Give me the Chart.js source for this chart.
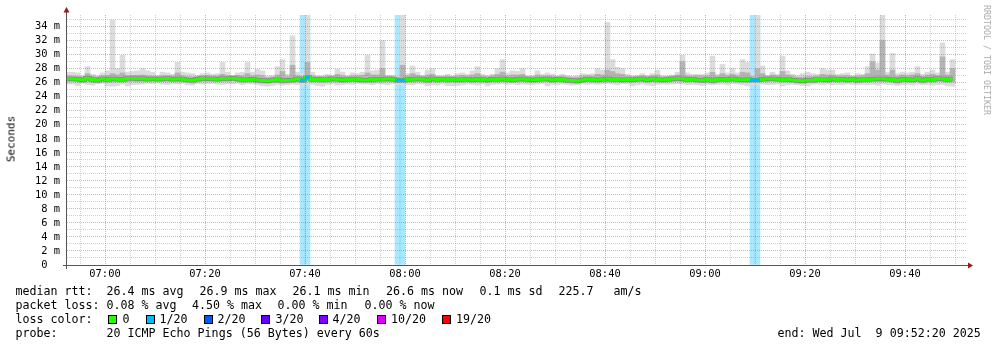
<!DOCTYPE html>
<html><head><meta charset="utf-8">
<script src="https://cdn.jsdelivr.net/npm/chart.js@4.4.1/dist/chart.umd.min.js"></script>
<style>
html,body{margin:0;padding:0;background:#fff;}
#wrap{position:relative;width:997px;height:347px;overflow:hidden;background:#fff;}
canvas{position:absolute;left:0;top:0;}
.t{position:absolute;font-family:"DejaVu Sans Mono",monospace;font-size:11.65px;line-height:14px;color:#000;white-space:pre;}
.sw{position:absolute;width:7px;height:7px;border:1px solid #000;}
.rot{position:absolute;font-family:"DejaVu Sans Mono",monospace;white-space:pre;}
</style></head><body>
<div id="wrap">
<canvas id="c" width="997" height="347"></canvas>
<div class="rot" style="left:11px;top:139px;font-size:11px;color:#000;transform:translate(-50%,-50%) rotate(-90deg);">Seconds</div>
<div class="rot" style="left:987px;top:60px;font-size:8.3px;color:#aaaaaa;transform:translate(-50%,-50%) rotate(90deg);">RRDTOOL / TOBI OETIKER</div>

<div class="t" style="left:15.5px;top:284px;">median rtt:</div>
<div class="t" style="left:106.5px;top:284px;">26.4 ms avg</div>
<div class="t" style="left:199.5px;top:284px;">26.9 ms max</div>
<div class="t" style="left:292.5px;top:284px;">26.1 ms min</div>
<div class="t" style="left:386px;top:284px;">26.6 ms now</div>
<div class="t" style="left:479.5px;top:284px;">0.1 ms sd</div>
<div class="t" style="left:558.5px;top:284px;">225.7</div>
<div class="t" style="left:613.5px;top:284px;">am/s</div>

<div class="t" style="left:15.5px;top:298px;">packet loss:</div>
<div class="t" style="left:106.5px;top:298px;">0.08 % avg</div>
<div class="t" style="left:192px;top:298px;">4.50 % max</div>
<div class="t" style="left:277.5px;top:298px;">0.00 % min</div>
<div class="t" style="left:364.5px;top:298px;">0.00 % now</div>

<div class="t" style="left:15.5px;top:312px;">loss color:</div>
<div class="sw" style="left:108px;top:315px;background:#26ff00;"></div><div class="t" style="left:122.5px;top:312px;">0</div>
<div class="sw" style="left:146px;top:315px;background:#00b8ff;"></div><div class="t" style="left:159.5px;top:312px;">1/20</div>
<div class="sw" style="left:203.5px;top:315px;background:#0059ff;"></div><div class="t" style="left:217.5px;top:312px;">2/20</div>
<div class="sw" style="left:261px;top:315px;background:#5e00ff;"></div><div class="t" style="left:275.5px;top:312px;">3/20</div>
<div class="sw" style="left:318.5px;top:315px;background:#7e00ff;"></div><div class="t" style="left:332.5px;top:312px;">4/20</div>
<div class="sw" style="left:377px;top:315px;background:#dd00ff;"></div><div class="t" style="left:391px;top:312px;">10/20</div>
<div class="sw" style="left:442px;top:315px;background:#ff0000;"></div><div class="t" style="left:456px;top:312px;">19/20</div>

<div class="t" style="left:15.5px;top:326px;">probe:</div>
<div class="t" style="left:106.5px;top:326px;">20 ICMP Echo Pings (56 Bytes) every 60s</div>
<div class="t" style="left:777.5px;top:326px;">end: Wed Jul  9 09:52:20 2025</div>
</div>
<script>
// ---- data (ms), one sample per minute starting 06:52 ----
const startMinute = 412; // 06:52
const rttMedian = [
 26.55,26.55,26.50,26.40,26.65,26.45,26.35,26.55,26.45,26.55,
 26.50,26.45,26.60,26.60,26.55,26.60,26.50,26.55,26.50,26.55,
 26.60,26.50,26.55,26.50,26.40,26.35,26.50,26.60,26.55,26.55,
 26.50,26.60,26.55,26.65,26.55,26.45,26.45,26.50,26.40,26.30,
 26.25,26.35,26.45,26.30,26.35,26.40,26.55,26.35,26.75,26.45,
 26.50,26.45,26.45,26.55,26.50,26.40,26.45,26.50,26.45,26.40,
 26.40,26.45,26.50,26.50,26.55,26.50,26.35,26.35,26.45,26.50,
 26.55,26.50,26.35,26.55,26.45,26.50,26.45,26.50,26.40,26.45,
 26.50,26.40,26.50,26.45,26.40,26.50,26.45,26.55,26.45,26.40,
 26.50,26.55,26.45,26.40,26.45,26.50,26.55,26.40,26.50,26.45,
 26.35,26.30,26.25,26.40,26.50,26.45,26.40,26.45,26.55,26.45,
 26.45,26.40,26.45,26.40,26.50,26.55,26.40,26.55,26.45,26.40,
 26.45,26.55,26.60,26.55,26.45,26.50,26.40,26.35,26.45,26.30,
 26.45,26.50,26.45,26.55,26.45,26.40,26.45,26.40,26.40,26.50,
 26.55,26.55,26.50,26.45,26.45,26.40,26.30,26.25,26.35,26.35,
 26.45,26.45,26.40,26.55,26.45,26.50,26.40,26.50,26.35,26.45,
 26.45,26.50,26.55,26.55,26.50,26.45,26.30,26.50,26.45,26.40,
 26.60,26.35,26.50,26.45,26.60,26.55,26.45,26.55
];
const rttMin = [
 25.80,25.80,25.60,25.90,25.75,25.65,25.85,25.90,25.55,25.50,
 25.60,25.80,25.55,25.70,25.75,25.80,25.90,25.85,25.95,25.80,
 25.75,25.85,25.80,25.90,25.70,25.65,25.85,25.80,25.85,25.90,
 25.80,25.75,25.85,25.80,25.90,25.70,25.85,25.80,25.70,25.55,
 25.50,25.60,25.75,25.65,25.70,25.80,25.75,25.70,25.80,25.75,
 25.60,25.50,25.75,25.80,25.65,25.70,25.80,25.75,25.85,25.80,
 25.80,25.70,25.85,25.80,25.70,25.85,25.75,25.80,25.75,25.70,
 25.85,25.80,25.55,25.70,25.65,25.80,25.60,25.55,25.60,25.70,
 25.80,25.75,25.65,25.80,25.55,25.75,25.80,25.85,25.75,25.80,
 25.70,25.80,25.75,25.70,25.80,25.85,25.55,25.75,25.70,25.80,
 25.75,25.65,25.70,25.80,25.75,25.80,25.75,25.80,25.85,25.80,
 25.70,25.85,25.80,25.55,25.70,25.80,25.65,25.60,25.75,25.80,
 25.75,25.80,25.85,25.80,25.70,25.75,25.70,25.60,25.75,25.70,
 25.75,25.80,25.70,25.85,25.80,25.70,25.60,25.75,25.75,25.80,
 25.70,25.75,25.80,25.55,25.70,25.75,25.70,25.60,25.55,25.75,
 25.80,25.70,25.80,25.70,25.75,25.70,25.80,25.75,25.70,25.75,
 25.70,25.75,25.65,25.80,25.75,25.70,25.60,25.70,25.75,25.65,
 25.80,25.70,25.75,25.65,25.70,25.75,25.55,25.50
];
const rttLow = [
 26.15,26.20,26.10,26.05,26.25,26.05,26.00,26.15,26.05,26.10,
 26.10,26.10,26.20,26.20,26.15,26.20,26.15,26.20,26.15,26.15,
 26.20,26.15,26.15,26.15,26.05,25.95,26.15,26.20,26.20,26.20,
 26.15,26.20,26.20,26.25,26.15,26.05,26.10,26.10,26.00,25.95,
 25.90,26.00,26.05,25.95,26.00,26.05,26.15,26.00,26.30,26.10,
 26.10,26.05,26.10,26.15,26.10,26.05,26.10,26.15,26.10,26.05,
 26.05,26.05,26.10,26.10,26.15,26.15,26.00,26.00,26.10,26.10,
 26.15,26.15,26.00,26.15,26.05,26.15,26.05,26.10,26.05,26.10,
 26.15,26.05,26.10,26.10,26.00,26.15,26.10,26.15,26.10,26.05,
 26.10,26.15,26.10,26.05,26.10,26.15,26.15,26.05,26.15,26.10,
 26.00,25.95,25.90,26.05,26.15,26.10,26.05,26.10,26.15,26.10,
 26.10,26.05,26.10,26.05,26.15,26.15,26.05,26.15,26.10,26.05,
 26.10,26.15,26.20,26.15,26.10,26.15,26.05,26.00,26.10,25.95,
 26.10,26.15,26.10,26.20,26.10,26.05,26.05,26.05,26.05,26.15,
 26.15,26.20,26.15,26.10,26.10,26.05,25.95,25.90,26.00,26.00,
 26.10,26.10,26.05,26.15,26.10,26.15,26.05,26.15,26.00,26.10,
 26.10,26.15,26.15,26.15,26.15,26.10,25.95,26.15,26.10,26.05,
 26.20,26.00,26.15,26.10,26.20,26.15,26.05,26.10
];
const rttHigh = [
 27.00,26.95,26.90,26.85,27.30,26.95,26.85,27.00,27.05,27.30,
 27.10,27.40,27.00,27.05,27.05,27.10,27.00,26.95,26.90,27.00,
 27.00,26.95,27.40,27.00,26.90,26.85,26.95,27.00,27.05,26.95,
 26.95,27.20,27.00,27.00,27.05,27.00,27.30,27.00,27.10,27.00,
 26.75,26.85,27.10,27.60,26.90,28.50,27.00,26.90,28.90,27.00,
 26.90,26.90,26.95,26.95,27.20,27.00,26.90,27.00,27.00,27.05,
 27.40,27.10,27.10,28.00,26.95,26.95,26.80,28.50,27.00,27.30,
 27.05,26.95,27.10,27.20,26.90,26.90,26.95,26.90,27.00,27.05,
 26.95,27.10,27.30,26.95,26.90,27.00,27.20,27.50,27.00,27.10,
 27.10,27.20,26.90,26.90,27.10,26.95,27.00,26.95,26.90,26.95,
 26.85,26.80,26.80,26.95,27.00,26.95,27.20,27.10,27.80,27.60,
 27.30,27.20,26.95,26.90,26.95,27.00,26.90,27.00,27.10,26.85,
 26.90,26.95,27.10,29.00,27.00,26.95,27.00,26.95,27.00,27.50,
 26.95,27.30,27.00,27.20,27.00,27.50,27.40,26.90,28.00,27.30,
 26.95,27.10,27.00,27.60,27.10,26.95,26.80,26.80,26.90,26.90,
 26.95,27.20,27.10,27.10,26.95,27.00,27.00,26.90,26.95,27.00,
 27.30,29.00,27.80,32.00,27.10,27.80,26.95,27.10,27.00,27.10,
 27.30,26.90,27.10,27.20,27.00,29.70,27.10,28.00
];
const rttMax = [
 27.5,27.5,27.4,27.0,28.3,27.2,27.0,27.4,27.7,34.95,
 28.0,29.9,27.5,27.6,27.7,28.0,27.7,27.5,27.1,27.5,
 27.4,27.2,28.9,27.5,27.4,27.3,27.0,27.3,27.4,27.2,
 27.3,28.9,27.5,27.0,27.4,27.5,28.9,27.5,27.9,27.7,
 27.0,27.0,28.3,29.3,27.2,32.7,27.5,27.2,36.0,27.5,
 27.0,27.0,27.2,27.0,27.9,27.5,27.0,27.4,27.3,27.5,
 29.9,27.7,27.8,32.0,27.0,27.0,27.0,36.0,27.3,28.4,
 27.5,27.0,27.8,28.0,27.0,27.0,27.2,27.0,27.3,27.4,
 27.2,27.7,28.3,27.2,27.0,27.2,28.0,29.3,27.4,27.7,
 27.6,28.0,27.0,27.0,27.7,27.2,27.4,27.2,27.0,27.2,
 27.0,26.9,27.0,27.3,27.2,27.3,28.0,27.8,34.6,29.3,
 28.2,28.0,27.2,27.0,27.0,27.3,27.0,27.3,27.8,27.0,
 27.0,27.1,27.5,29.9,27.4,27.2,27.2,27.2,27.4,29.8,
 27.2,28.6,27.4,28.0,27.4,29.3,28.9,27.3,36.0,28.4,
 27.0,27.5,27.2,29.8,27.7,27.2,27.0,27.3,27.5,27.3,
 27.2,28.0,27.8,27.8,27.2,27.3,27.4,27.0,27.3,27.2,
 28.3,30.1,28.8,36.0,27.5,30.2,27.3,27.5,27.4,27.5,
 28.3,27.2,27.5,27.8,27.4,31.7,27.5,29.3
];
// samples with packet loss (index into the arrays) and lost pings out of 20
const lossIndex = [47, 48, 66, 67, 137, 138];
const lossCount = [1, 1, 1, 1, 1, 1];

// axes
const xMinMinute = 412.4, xMaxMinute = 592.4;      // 06:52:24 .. 09:52:24
const xGridMinutes = [415,420,425,430,435,440,445,450,455,460,465,470,475,480,485,490,495,500,505,510,515,520,525,530,535,540,545,550,555,560,565,570,575,580,585,590];
const xLabelMinutes = [420,440,460,480,500,520,540,560,580];
const xLabels = ['07:00','07:20','07:40','08:00','08:20','08:40','09:00','09:20','09:40'];
const yGridValues = [0,1,2,3,4,5,6,7,8,9,10,11,12,13,14,15,16,17,18,19,20,21,22,23,24,25,26,27,28,29,30,31,32,33,34,35];
const yLabelValues = [0,2,4,6,8,10,12,14,16,18,20,22,24,26,28,30,32,34];
const yLabels = ['0  ','2 m','4 m','6 m','8 m','10 m','12 m','14 m','16 m','18 m','20 m','22 m','24 m','26 m','28 m','30 m','32 m','34 m'];
const yMax = 35.66;

const lossColors = {1:'#00b8ff',2:'#0059ff',3:'#5e00ff',4:'#7e00ff',10:'#dd00ff',19:'#ff0000'};
const lossBgColors = {1:'rgba(0,184,255,0.33)'};

const tOf = k => startMinute + k + 0.5;
const outer = rttMin.map((v,k)=>({x:tOf(k), y:[v, rttMax[k]]}));
const mid = rttLow.map((v,k)=>({x:tOf(k), y:[v, rttHigh[k]]}));
const med = rttMedian.map((v,k)=>({x:tOf(k), y:v}));
const lossBg = lossIndex.map((k)=>({x:tOf(k), y:[0, yMax]}));
const lossMed = lossIndex.map((k)=>({x:tOf(k), y:rttMedian[k]}));

const axisPlugin = {
  id:'rrdaxes',
  afterDraw(chart){
    const {ctx, chartArea:a} = chart;
    ctx.save();
    ctx.strokeStyle = '#555'; ctx.lineWidth = 1;
    ctx.beginPath();
    ctx.moveTo(a.left-0.5, a.top-5); ctx.lineTo(a.left-0.5, a.bottom+4);
    ctx.moveTo(a.left-4, a.bottom+0.5); ctx.lineTo(a.right+2, a.bottom+0.5);
    ctx.stroke();
    ctx.fillStyle = '#9b1818';
    ctx.beginPath();
    ctx.moveTo(a.left-0.5, a.top-8); ctx.lineTo(a.left-3.5, a.top-2.5); ctx.lineTo(a.left+2.5, a.top-2.5); ctx.closePath(); ctx.fill();
    ctx.beginPath();
    ctx.moveTo(a.right+6, a.bottom+0.5); ctx.lineTo(a.right+1, a.bottom-2.5); ctx.lineTo(a.right+1, a.bottom+3.5); ctx.closePath(); ctx.fill();
    ctx.restore();
  }
};

const majorGrid = 'rgba(225,80,80,0.5)';
const minorGrid = 'rgba(128,128,128,0.36)';

new Chart(document.getElementById('c'), {
  type:'bar',
  data:{datasets:[
    {type:'bar', data:lossBg, backgroundColor:lossIndex.map((k,i)=>lossBgColors[lossCount[i]]), grouped:false, barPercentage:1, categoryPercentage:1, borderWidth:0, order:10, clip:0},
    {type:'bar', data:outer, backgroundColor:'#dcdcdc', grouped:false, barPercentage:1, categoryPercentage:1, borderWidth:0, order:9, clip:0},
    {type:'bar', data:mid, backgroundColor:'#b4b4b4', grouped:false, barPercentage:1, categoryPercentage:1, borderWidth:0, order:8, clip:0},
    {type:'line', data:med, borderColor:'#7c7c7c', borderWidth:4, stepped:'middle', pointRadius:0, order:3, clip:0},
    {type:'line', data:med, borderColor:'#26ff00', borderWidth:3, stepped:'middle', pointRadius:0, order:2, clip:0},
    {type:'line', data:lossMed, showLine:false, pointStyle:'line', pointRadius:2.5, pointBorderWidth:3,
      pointBorderColor:lossIndex.map((k,i)=>lossColors[lossCount[i]]), order:1, clip:0}
  ]},
  options:{
    responsive:false, animation:false, devicePixelRatio:1,
    layout:{padding:{left:0,top:15,right:30,bottom:0}},
    plugins:{legend:{display:false}, tooltip:{enabled:false}},
    font:{family:'DejaVu Sans Mono'},
    scales:{
      x:{type:'linear', min:xMinMinute, max:xMaxMinute, bounds:'data', offset:false,
        afterBuildTicks:s=>{ s.ticks = xGridMinutes.map(v=>({value:v})); },
        afterFit:s=>{ s.height = 82; },
        grid:{z:1, offset:false, drawTicks:false, lineWidth:1, color:c=> xLabelMinutes.includes(c.tick && c.tick.value) ? majorGrid : minorGrid},
        border:{display:false, dash:[1,1]},
        ticks:{autoSkip:false, maxRotation:0, padding:3, color:'#000', font:{family:'DejaVu Sans Mono', size:10.4},
          callback:v=>{ const i = xLabelMinutes.indexOf(v); return i>=0 ? xLabels[i] : ''; }}
      },
      y:{type:'linear', min:0, max:yMax, bounds:'data',
        afterBuildTicks:s=>{ s.ticks = yGridValues.map(v=>({value:v})); },
        afterFit:s=>{ s.width = 67; },
        grid:{z:1, drawTicks:false, lineWidth:1, color:c=> (c.tick && c.tick.value===0) ? 'rgba(0,0,0,0)' : (yLabelValues.includes(c.tick && c.tick.value) ? majorGrid : minorGrid)},
        border:{display:false, dash:[1,1]},
        ticks:{autoSkip:false, padding:7, color:'#000', font:{family:'DejaVu Sans Mono', size:10.4},
          callback:v=>{ const i = yLabelValues.indexOf(v); return i>=0 ? yLabels[i] : ''; }}
      }
    }
  },
  plugins:[axisPlugin]
});
</script>
</body></html>
